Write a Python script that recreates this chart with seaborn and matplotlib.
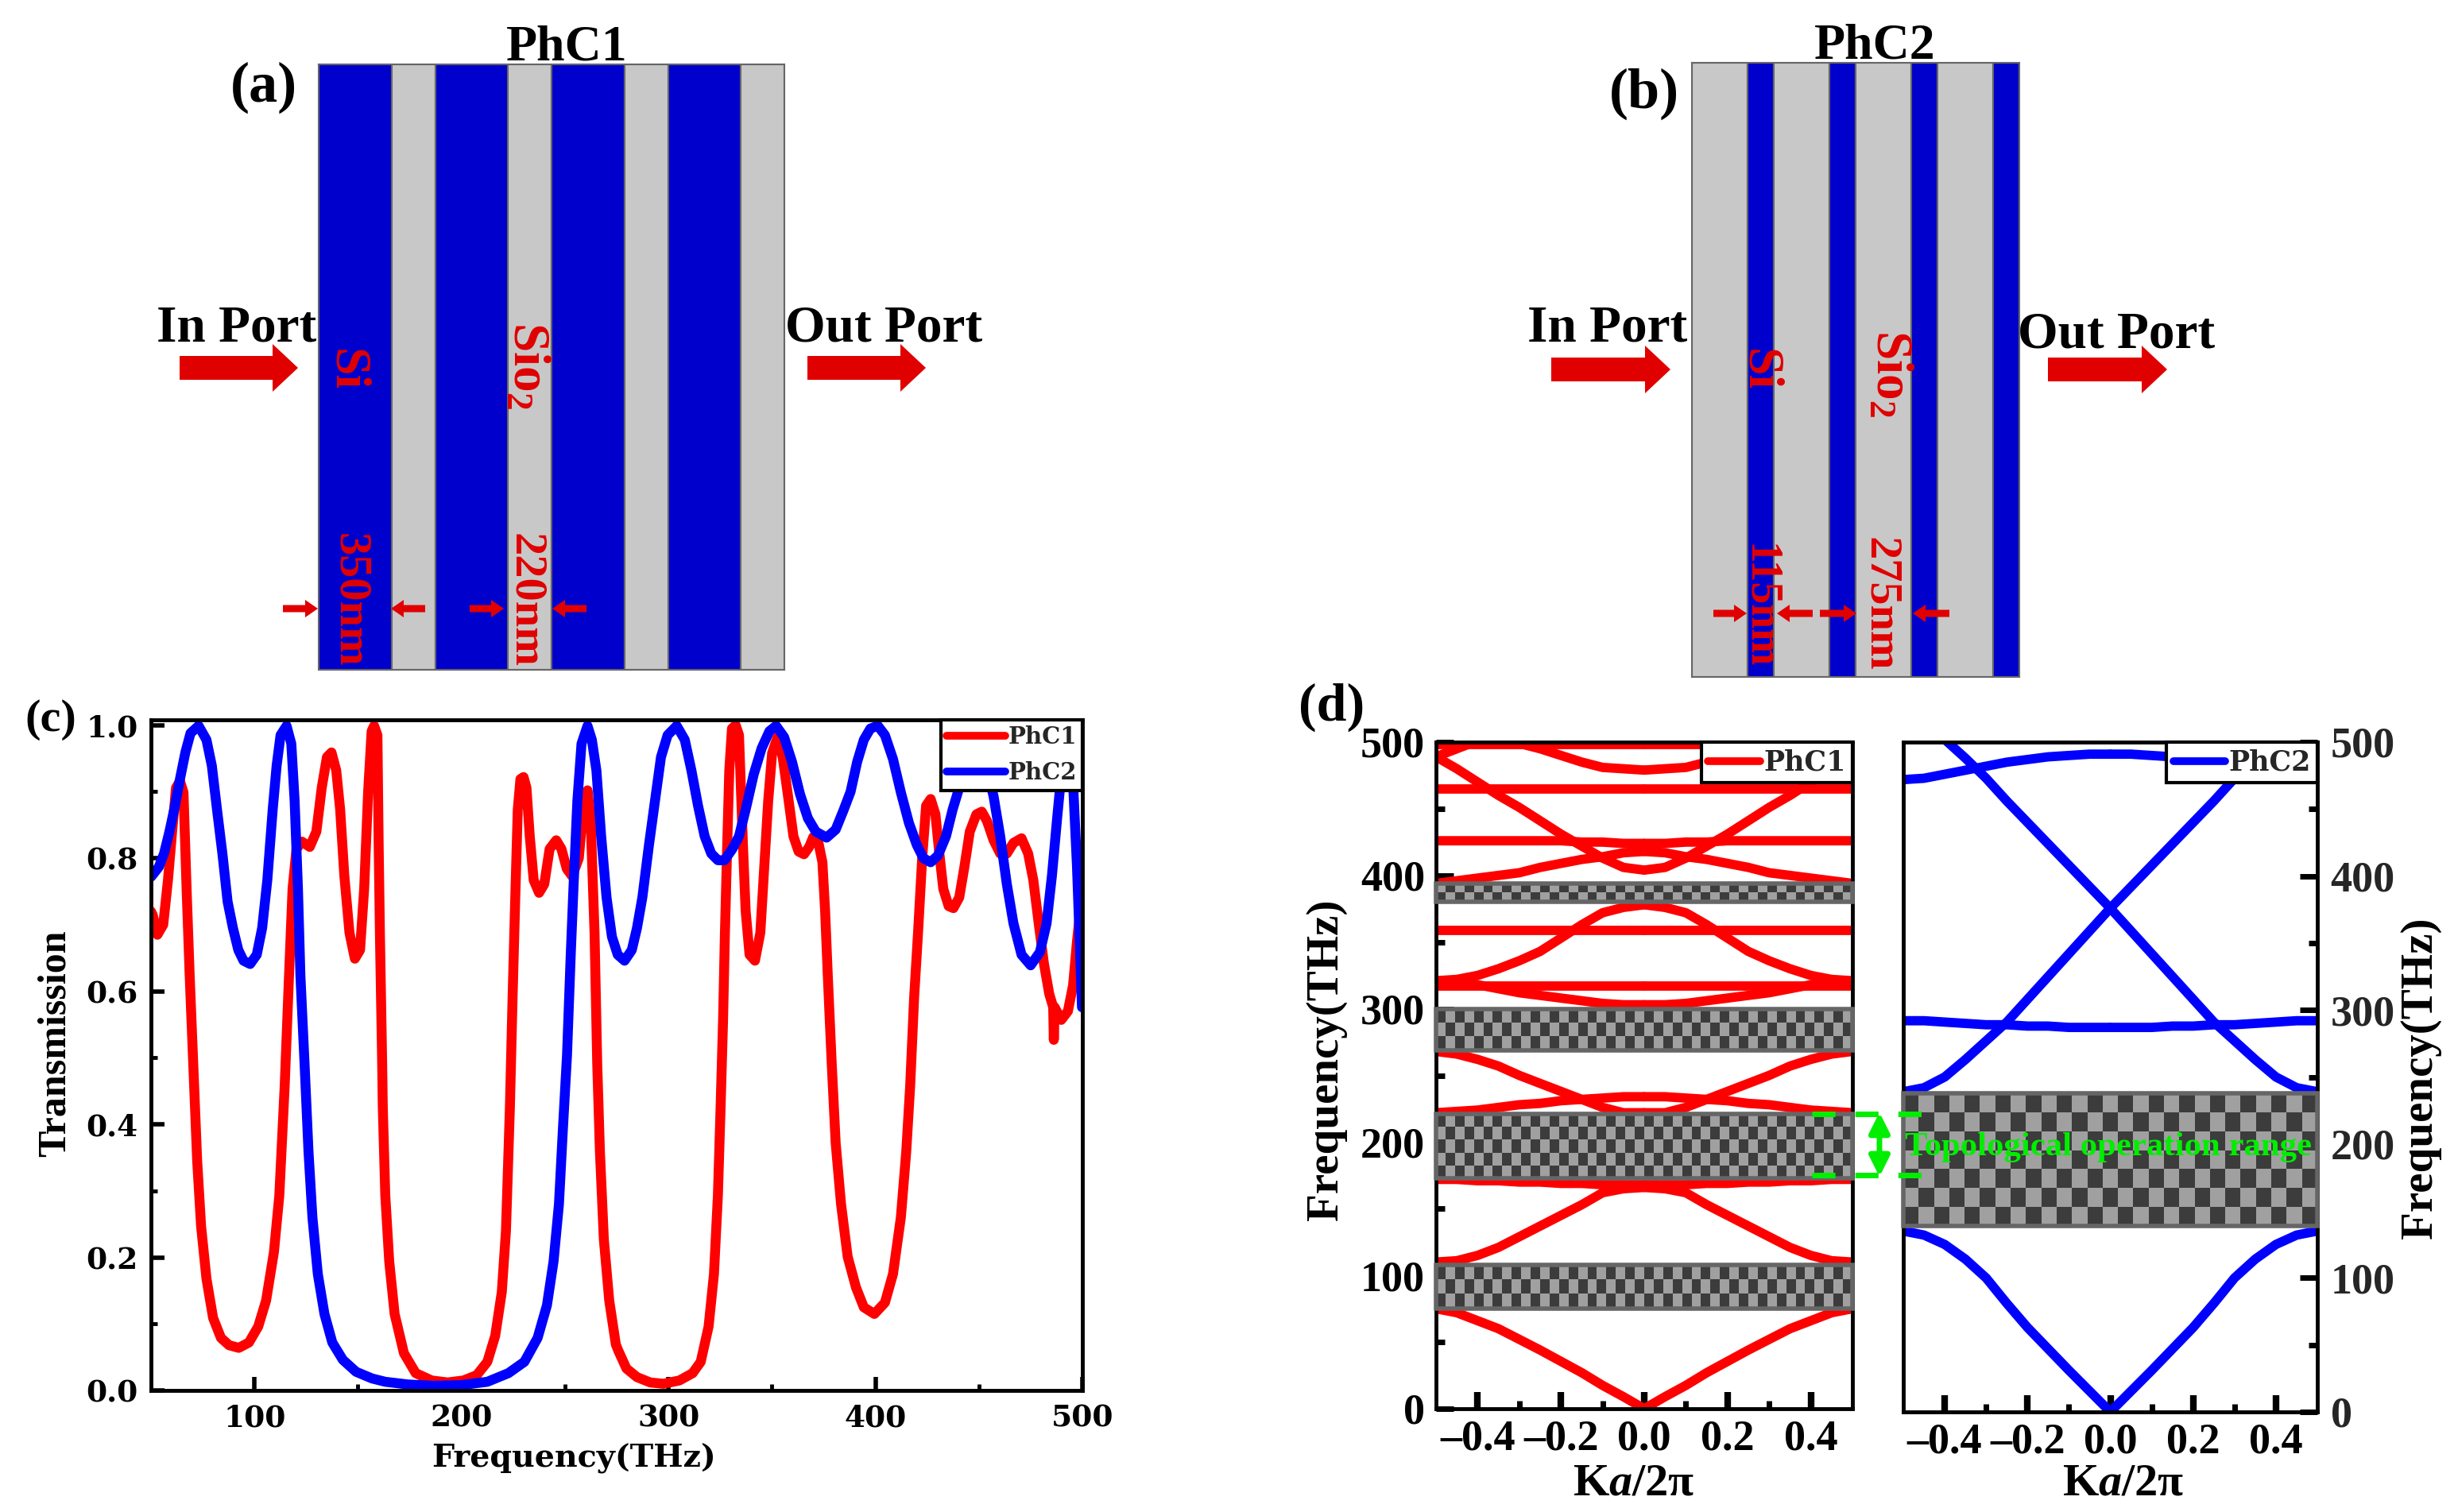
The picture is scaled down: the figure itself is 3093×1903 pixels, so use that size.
import numpy as np
import seaborn as sns
import matplotlib.pyplot as plt
from matplotlib.colors import ListedColormap
from matplotlib.lines import Line2D
from matplotlib.patches import Rectangle

# (c) transmission spectra
freq_phc1 = [50, 50.8, 53.1, 55.9, 58.2, 60.2, 62.1, 64, 65.7, 67.2, 68.7, 70.4, 72.3, 74.2, 76.8, 80, 83.8, 87.7, 92.4,
             97.3, 101.8, 105.6, 109.4, 112, 114.6, 116.5, 118.4, 120.3, 122.9, 126.7, 129.9, 132.5, 135, 137.2, 139.5,
             141.4, 143.4, 145.9, 148.5, 151, 153, 154.9, 156.6, 157.8, 159.4, 160, 160.6, 161.7, 162, 163.2, 165.1,
             167.7, 172.2, 177.9, 185.6, 193.3, 201, 207.4, 212.5, 216.3, 219.5, 221.5, 223.4, 224.7, 226, 227.2, 228.5,
             230, 231.4, 233, 234.9, 237.5, 240, 242.6, 245.8, 248.3, 250.9, 253.5, 256.7, 258.6, 260.9, 262.4, 264.3,
             265.6, 266.9, 268.8, 271.4, 274.6, 275.9, 279.7, 284.8, 291.2, 297.6, 305.3, 311.7, 315.6, 319.4, 322,
             323.9, 325.2, 326.4, 327.3, 328.4, 329.4, 330.7, 332.5, 334.1, 335, 336, 337.3, 339.2, 341.8, 344.4, 346.3,
             348.2, 350.1, 352.7, 355.2, 357.8, 360.4, 362.9, 365.5, 368, 370, 372.5, 374.4, 375.7, 377, 378.9, 380.8,
             383.4, 386.6, 390.6, 394.4, 399.5, 404.6, 408.5, 412.3, 414.9, 416.8, 418.7, 420.6, 422.6, 424.5, 426.7,
             429, 430.9, 432.8, 435.4, 437.7, 440.5, 443, 445.6, 448.8, 451.4, 453.9, 457.1, 460.3, 463.5, 466.7, 470.6,
             473.8, 476.3, 478.9, 481.4, 484, 485.9, 486.2, 486.6, 489.8, 493, 495.5, 497.4, 500]
trans_phc1 = [.72, .715, .685, .70, .767, .84, .906, .916, .899, .754, .623, .491, .346, .247, .168, .109, .079, .068, .064,
              .072, .096, .135, .208, .293, .458, .609, .754, .814, .825, .817, .84, .906, .952, .959, .932,
              .873, .774, .688, .649, .662, .754, .899, .991, .999, .985, .82, .688, .49, .425, .293, .194,
              .115, .056, .026, .015, .012, .015, .023, .043, .082, .148, .24, .425, .59, .741, .873, .919,
              .922, .906, .833, .767, .748, .761, .814, .827, .814, .784, .773, .80, .866, .902, .86, .688,
              .491, .359, .227, .135, .069, .059, .033, .02, .012, .01, .015, .026, .043, .096, .175,
              .293, .425, .557, .688, .82, .932, .995, 1.0, .985, .906, .82, .721, .655, .646, .688, .787,
              .886, .958, .982, .952, .893, .833, .81, .806, .817, .832, .823, .794, .721, .623, .491, .372,
              .28, .201, .155, .125, .115, .132, .175, .26, .359, .458, .59, .688, .80, .879, .889,
              .866, .807, .754, .728, .725, .741, .787, .84, .866, .87, .856, .827, .807, .807, .823, .83,
              .807, .767, .702, .642, .596, .576, .527, .576, .557, .57, .609, .675, .75]
freq_phc2 = [50, 50.8, 53.8, 56.3, 58.9, 61.4, 64, 66.6, 69.1, 73, 76.8, 79.4, 81.9, 84.5, 87, 89.6, 92.2, 94.7, 97.9, 101.1,
             103.7, 106.2, 108.8, 110.7, 112.6, 115.5, 117.8, 119.4, 121, 122.2, 124.2, 126.1, 128, 130.6, 133.8, 137.6,
             142.7, 149.1, 156.8, 163.2, 174.1, 186.9, 199.7, 212.5, 222.7, 230.4, 236.8, 241.3, 244.5, 247.1, 249, 251,
             252.8, 254.1, 256, 258, 260.9, 263, 265.2, 267.5, 270.1, 272.7, 275.5, 278.8, 282.3, 284.8, 287.4, 290.6,
             293.8, 296.4, 299.6, 304, 307.9, 311.1, 314.3, 317.5, 320.7, 323.9, 327.1, 330.9, 334.1, 337.3, 341.2, 345,
             348.8, 352, 355.9, 359.7, 363.6, 367.4, 371.2, 376.4, 380.8, 384.7, 388, 391.2, 394.4, 397.6, 401.2, 404.6,
             408.5, 412.3, 416.2, 420, 423.2, 426.7, 430.2, 434.1, 437.3, 440.5, 448.8, 457.1, 460.3, 463.5, 466.7, 470.6,
             475, 479.5, 482.7, 485.3, 487.8, 490.4, 492.3, 494.9, 497.4, 498.7, 499.8]
trans_phc2 = [.772, .775, .787, .807, .84, .876, .919, .959, .988, .999, .978, .939, .873, .807, .735, .695, .662, .646, .641, .655,
              .695, .767, .873, .939, .985, .999, .972, .886, .754, .623, .491, .359, .26, .175, .115, .072,
              .046, .028, .018, .013, .009, .007, .008, .013, .026, .043, .079, .128, .194, .28, .392, .504,
              .655, .754, .886, .972, .999, .978, .932, .833, .741, .682, .655, .646, .662, .695, .741, .82,
              .893, .952, .985, .999, .978, .932, .879, .833, .807, .797, .797, .814, .833, .873, .926, .965,
              .991, .999, .982, .945, .896, .86, .84, .831, .843, .873, .90, .945, .978, .995, .999, .985,
              .949, .899, .853, .82, .80, .794, .804, .833, .873, .906, .999, .893, .833, .761, .702, .655,
              .639, .659, .702, .774, .86, .945, .999, .953, .787, .675, .576]

# (d) band diagrams, |k| from the zone centre to the edge, mirrored when drawn
k_half = [0, .05, .1, .15, .2, .25, .3, .35, .4, .45, .5]
bands_phc1 = [
    [0, 9, 17.5, 27, 35.5, 44, 52, 60, 66, 72, 75],
    [166, 165, 162, 153, 145, 137, 129, 121, 115, 111, 110],
    [168, 168, 168, 169, 169, 170, 170, 171, 171, 172, 172],
    [222, 222, 226, 232, 238, 244, 250, 257, 262, 266, 268],
    [234, 234, 233, 232, 231, 229, 228, 226, 224, 223, 222],
    [303, 303, 304, 306, 308, 310, 312, 315, 318, 319, 320],
    [317, 317, 317, 317, 317, 317, 317, 317, 317, 317, 317],
    [378, 376, 372, 363, 353, 343, 336, 330, 325, 322, 321],
    [359, 359, 359, 359, 359, 359, 359, 359, 359, 359, 359],
    [418, 417, 414, 412, 409, 406, 402, 400, 398, 396, 394],
    [424, 424, 425, 425, 426, 426, 426, 426, 426, 426, 426],
    [404, 406, 413, 422, 431, 441, 451, 460, 470, 480, 489],
    [465, 465, 465, 465, 465, 465, 465, 465, 465, 465, 465],
    [479, 480, 481, 485, 490, 495, 499, 503, 506, 508, 510],
    [498, 498, 498, 498, 498, 498, 498, 498, 498, 498, 498],
    [np.nan, np.nan, np.nan, np.nan, np.nan, np.nan, np.nan, np.nan, 501, 495, 489],
]
bands_phc2 = [
    [0, 15.5, 31, 47, 63, 81, 100, 114, 125, 132, 135],
    [376, 359, 342, 325, 308, 291, 277, 263, 250, 242, 239],
    [376, 392, 408, 424, 440, 456, 473, 488, 502, np.nan, np.nan],
    [287, 287, 287, 288, 288, 289, 289, 290, 291, 292, 292],
    [491, 491, 490, 489, 487, 485, 482, 479, 476, 473, 472],
]
gaps_phc1 = [(75, 108), (173, 221), (269, 300), (380, 394)]
gaps_phc2 = [(139, 238)]

# (a), (b) layer widths
layers_a = [350, 208]
layers_b = [275, 127]

W, H = 3093, 1903
RED, BLUE = "#ff0000", "#0000ff"
SI_BLUE, SIO2_GRAY = "#0000cc", "#c8c8c8"
ARROW_RED, GREEN = "#e10000", "#00ee00"
TIMES, WIDE = "Liberation Serif", "DejaVu Serif"

sns.set_theme(style="ticks")
plt.rcParams["font.family"] = [TIMES, "DejaVu Serif"]
plt.rcParams["font.weight"] = "bold"
plt.rcParams["mathtext.fontset"] = "custom"
plt.rcParams["mathtext.rm"] = "Liberation Serif:bold"
plt.rcParams["mathtext.it"] = "Liberation Serif:italic:bold"
plt.rcParams["mathtext.bf"] = "Liberation Serif:bold"
plt.rcParams["mathtext.default"] = "rm"
plt.rcParams["lines.solid_capstyle"] = "round"

fig = plt.figure(figsize=(W / 100, H / 100), dpi=100, facecolor="white")


def px_axes(left, top, right, bottom):
    return fig.add_axes([left / W, 1 - bottom / H, (right - left) / W, (bottom - top) / H])


def stack(ax, widths, colors):
    # four periods of the two layers
    w = np.array(widths * 4)
    left = np.concatenate([[0], np.cumsum(w)[:-1]])
    ax.bar(left, 1, w, align="edge", color=colors * 4, edgecolor="#666666", linewidth=1.5)
    ax.set_xlim(0, w.sum())
    ax.set_ylim(0, 1)
    ax.set_xticks([])
    ax.set_yticks([])
    for s in ax.spines.values():
        s.set_color("#666666")
        s.set_linewidth(1.5)


def style_axes(ax, family, size):
    for s in ax.spines.values():
        s.set_linewidth(3.5)
        s.set_color("black")
    ax.tick_params(which="major", direction="in", length=12, width=4, labelsize=size, color="black")
    ax.tick_params(which="minor", direction="in", length=6, width=3.5, color="black")
    for lab in ax.get_xticklabels() + ax.get_yticklabels():
        lab.set_family(family)
        lab.set_weight("bold")
        lab.set_color("black")


def draw_gap(ax, lo, hi, nx, ny):
    rows, cols = np.indices((ny, nx))
    ax.imshow((rows + cols) % 2, extent=(-.5, .5, lo, hi), aspect="auto", origin="lower", zorder=3,
              cmap=ListedColormap(["#3c3c3c", "#a0a0a0"]), interpolation="nearest")
    ax.add_patch(Rectangle((-.5, lo), 1, hi - lo, fill=False, edgecolor="#666666", linewidth=4, zorder=3.5, clip_on=False))


def draw_bands(ax, bands, color):
    k = np.array(k_half)
    for b in bands:
        b = np.array(b, dtype=float)
        for sign in (-1, 1):
            keep = ~np.isnan(b)
            sns.lineplot(x=sign * k[keep], y=b[keep], ax=ax, color=color, linewidth=8.5, sort=False, estimator=None, legend=False)


def panel_legend(ax, pairs, size, hlen, family):
    handles = [Line2D([], [], color=c, linewidth=7) for _, c in pairs]
    leg = ax.legend(handles, [n for n, _ in pairs], loc="upper right", bbox_to_anchor=(1, 1), borderaxespad=0,
                    fancybox=False, framealpha=1, edgecolor="black", facecolor="white", handlelength=hlen,
                    handletextpad=.1, borderpad=.25, labelspacing=.55,
                    prop={"family": family, "weight": "bold", "size": size})
    leg.get_frame().set_linewidth(3)
    leg.set_zorder(6)
    return leg


# (a), (b)
ax_a = px_axes(401, 81, 987, 843)
stack(ax_a, layers_a, [SI_BLUE, SIO2_GRAY])
ax_b = px_axes(2129, 79, 2541, 852)
stack(ax_b, layers_b, [SIO2_GRAY, SI_BLUE])

# (c)
ax_c = px_axes(190, 906, 1362, 1750)
sns.lineplot(x=freq_phc1, y=trans_phc1, ax=ax_c, color=RED, linewidth=9, sort=False, estimator=None, legend=False)
sns.lineplot(x=freq_phc2, y=trans_phc2, ax=ax_c, color=BLUE, linewidth=9, sort=False, estimator=None, legend=False)
ax_c.set_xlim(50, 500)
ax_c.set_ylim(0, 1.008)
ax_c.set_xticks([100, 200, 300, 400, 500])
ax_c.set_xticks([150, 250, 350, 450], minor=True)
ax_c.set_yticks([0, .2, .4, .6, .8, 1])
ax_c.set_yticks([.1, .3, .5, .7, .9], minor=True)
ax_c.set_yticklabels(["0.0", "0.2", "0.4", "0.6", "0.8", "1.0"])
style_axes(ax_c, WIDE, 27)
ax_c.tick_params(axis="y", which="major", pad=12)
ax_c.tick_params(axis="x", which="major", pad=12)
panel_legend(ax_c, [("PhC1", RED), ("PhC2", BLUE)], 21, 2.55, WIDE)

# (d)
kticks = [-.4, -.2, 0, .2, .4]
klabels = ["\u20130.4", "\u20130.2", "0.0", "0.2", "0.4"]
ax_d1 = px_axes(1807, 934, 2331, 1773)
draw_bands(ax_d1, bands_phc1, RED)
for lo, hi in gaps_phc1:
    draw_gap(ax_d1, lo, hi, 44, max(2, round((hi - lo) * 1.65 / 16)))
ax_d2 = px_axes(2395, 934, 2916, 1777)
draw_bands(ax_d2, bands_phc2, BLUE)
for lo, hi in gaps_phc2:
    draw_gap(ax_d2, lo, hi, 27, 7)
for ax in (ax_d1, ax_d2):
    ax.set_xlim(-.5, .5)
    ax.set_ylim(0, 500)
    ax.set_xticks(kticks)
    ax.set_xticklabels(klabels)
    ax.set_xticks([-.3, -.1, .1, .3], minor=True)
    ax.set_yticks([0, 100, 200, 300, 400, 500])
    ax.set_yticks([50, 150, 250, 350, 450], minor=True)
    style_axes(ax, TIMES, 39)
    ax.tick_params(axis="x", which="major", length=15, width=6, pad=10)
    ax.tick_params(axis="x", which="minor", length=7, width=5)
    ax.tick_params(axis="y", which="major", length=16, width=5, pad=10)
    ax.tick_params(axis="y", which="minor", length=8, width=5)
ax_d2.yaxis.tick_right()
ax_d2.tick_params(axis="y", which="major", pad=12)
panel_legend(ax_d1, [("PhC1", RED)], 25, 1.9, WIDE)
panel_legend(ax_d2, [("PhC2", BLUE)], 25, 1.9, WIDE)

# annotations in picture pixels
over = fig.add_axes([0, 0, 1, 1], zorder=10)
over.set_xlim(0, W)
over.set_ylim(H, 0)
over.axis("off")


def label(x, y, s, size, family=TIMES, color="black", rotation=0):
    over.text(x, y, s, fontsize=size, family=family, weight="bold", color=color, rotation=rotation,
              ha="center", va="center", rotation_mode="anchor" if rotation else "default")


for x, y, s, size in [(332, 110, "(a)", 52), (2069, 118, "(b)", 52), (64, 906, "(c)", 42), (1676, 890, "(d)", 49),
                      (713, 61, "PhC1", 46), (2359, 58, "PhC2", 46),
                      (298, 413, "In Port", 47), (1112, 413, "Out Port", 47),
                      (2023, 414, "In Port", 47), (2663, 422, "Out Port", 47)]:
    label(x, y, s, size)

for x, y, s, size in [(435, 466, "Si", 46), (663, 460, "Sio$_{2}$", 47), (440, 755, "350nm", 42), (661, 755, "220nm", 42),
                      (2213, 466, "Si", 46), (2378, 470, "Sio$_{2}$", 47), (2214, 763, "115nm", 40), (2366, 760, "275nm", 42)]:
    label(x, y, s, size, color=ARROW_RED, rotation=-90)

for x0, x1, y in [(226, 375, 463), (1016, 1165, 463), (1952, 2102, 465), (2577, 2727, 465)]:
    over.arrow(x0, y, x1 - x0, 0, width=30, head_width=60, head_length=32, length_includes_head=True,
               color=ARROW_RED, linewidth=0)
for x0, x1, y in [(356, 400, 766), (535, 492, 766), (591, 634, 766), (738, 695, 766),
                  (2156, 2198, 772), (2281, 2236, 772), (2290, 2336, 772), (2453, 2407, 772)]:
    over.arrow(x0, y, x1 - x0, 0, width=9, head_width=22, head_length=16, length_includes_head=True,
               color=ARROW_RED, linewidth=0)

label(70, 1313, "Transmission", 36, rotation=90)
label(722, 1836, "Frequency(THz)", 28.5, family=WIDE)
label(1669, 1334, "Frequency(THz)", 41, rotation=90)
label(3046, 1357, "Frequency(THz)", 41, rotation=90)
label(2056, 1868, "K$\\mathit{a}$/2\u03c0", 42)
label(2672, 1868, "K$\\mathit{a}$/2\u03c0", 42)

# topological range marker
for y in (1402, 1479):
    over.plot([2280, 2442], [y, y], color=GREEN, linewidth=5, linestyle=(0, (4.2, 3.6)), dash_capstyle="butt")
over.annotate("", xy=(2365, 1400), xytext=(2365, 1481),
              arrowprops=dict(arrowstyle="<|-|>", color=GREEN, linewidth=5, mutation_scale=38, shrinkA=0, shrinkB=0))
label(2653, 1444, "Topological operation range", 30.8, color=GREEN)

fig.savefig("out.png", dpi=100, facecolor="white")
